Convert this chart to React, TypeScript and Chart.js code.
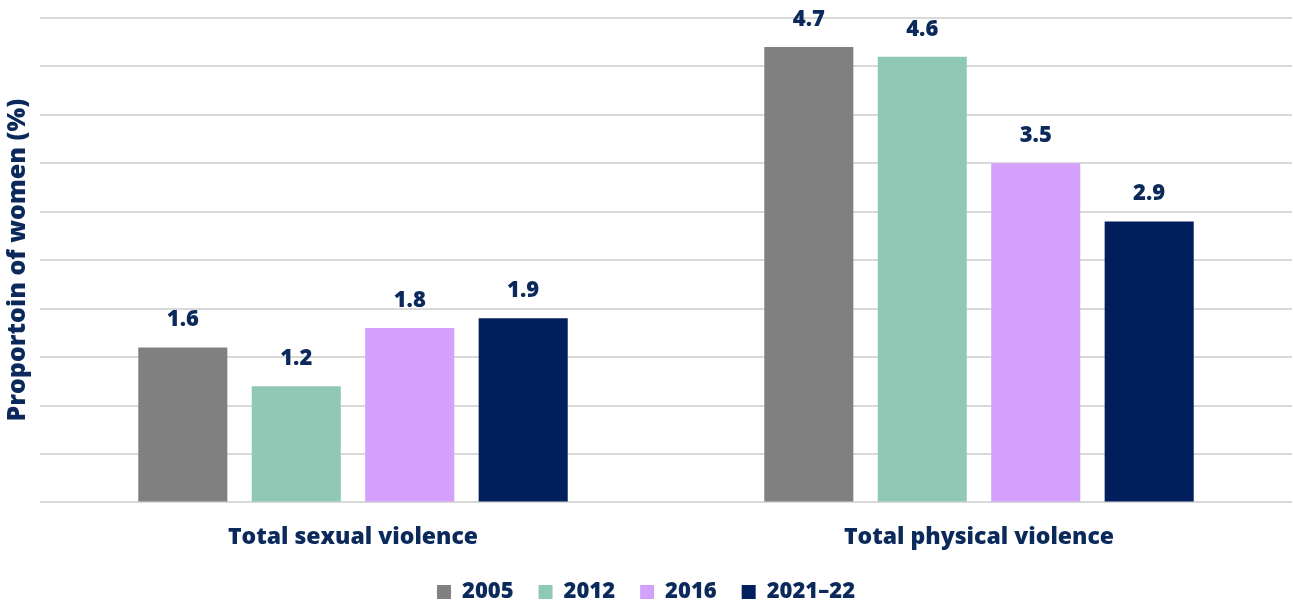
import React, { useEffect, useRef } from "react";
import { Chart, registerables } from "chart.js";

Chart.register(...registerables);

const categories = ["Total sexual violence", "Total physical violence"];
const seriesLabels = ["2005", "2012", "2016", "2021–22"];
const values2005 = [1.6, 4.7];
const values2012 = [1.2, 4.6];
const values2016 = [1.8, 3.5];
const values2021 = [1.9, 2.9];
const seriesColors = ["#808080", "#8FC9B6", "#D3A0FC", "#001F5C"];

const NAVY = "#0B2A5B";
const FONT = "'Open Sans', 'Noto Sans', sans-serif";
const W = 800;

const valueLabelPlugin = {
  id: "valueLabels",
  afterDatasetsDraw(chart: any) {
    const { ctx } = chart;
    ctx.save();
    ctx.font = `${W} 22px ${FONT}`;
    ctx.fillStyle = NAVY;
    ctx.textAlign = "center";
    ctx.textBaseline = "alphabetic";
    chart.data.datasets.forEach((ds: any, i: number) => {
      const meta = chart.getDatasetMeta(i);
      meta.data.forEach((bar: any, j: number) => {
        ctx.fillText(ds.data[j].toFixed(1), bar.x, bar.y - 21);
      });
    });
    ctx.restore();
  },
};

export default function App() {
  const ref = useRef<HTMLCanvasElement>(null);
  useEffect(() => {
    document.body.style.margin = "0";
    const allValues = [values2005, values2012, values2016, values2021];
    const chart = new Chart(ref.current!, {
      type: "bar",
      data: {
        labels: categories,
        datasets: seriesLabels.map((label, i) => ({
          label,
          data: allValues[i],
          backgroundColor: seriesColors[i],
          borderWidth: 0,
          categoryPercentage: 0.725,
          barPercentage: 0.785,
        })),
      },
      options: {
        animation: false,
        responsive: false,
        maintainAspectRatio: false,
        layout: { padding: { top: 18, right: 1, left: 0, bottom: -9 } },
        plugins: {
          legend: {
            position: "bottom",
            labels: {
              boxWidth: 14,
              boxHeight: 14,
              padding: 25,
              color: NAVY,
              font: { family: FONT, size: 22, weight: W },
            },
          },
          tooltip: { enabled: false },
        },
        scales: {
          x: {
            grid: { display: false, drawTicks: false },
            border: { display: false },
            afterFit(scale: any) {
              scale.height -= 16;
            },
            ticks: {
              color: NAVY,
              padding: 21,
              font: { family: FONT, size: 23, weight: W },
            },
          },
          y: {
            min: 0,
            max: 5,
            grid: { color: "#D9D9D9", lineWidth: 2, drawTicks: false },
            border: { display: false },
            ticks: { display: false, stepSize: 0.5 },
            title: {
              display: true,
              text: "Proportoin of women (%)",
              color: NAVY,
              padding: { top: 3, bottom: 7 },
              font: { family: FONT, size: 25, weight: W },
            },
          },
        },
      },
      plugins: [valueLabelPlugin],
    });
    return () => chart.destroy();
  }, []);
  return <canvas ref={ref} width={1293} height={604} style={{ display: "block" }} />;
}
